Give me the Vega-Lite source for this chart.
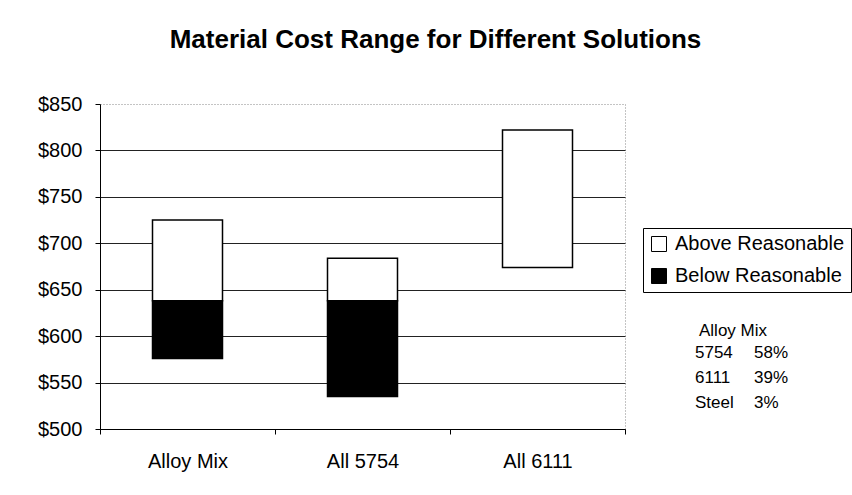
{
  "$schema": "https://vega.github.io/schema/vega-lite/v6.json",
  "width": 525,
  "height": 325,
  "autosize": {"type": "none"},
  "padding": {"left": 100, "top": 104, "right": 227, "bottom": 66},
  "background": "white",
  "title": {
    "text": "Material Cost Range for Different Solutions",
    "fontSize": 26,
    "fontWeight": "bold",
    "color": "black",
    "anchor": "middle",
    "frame": "group",
    "baseline": "alphabetic",
    "dx": 73,
    "offset": 20
  },
  "datasets": {
    "bars": [
      {"solution": "Alloy Mix", "type": "Below Reasonable", "low": 576, "high": 638},
      {"solution": "Alloy Mix", "type": "Above Reasonable", "low": 638, "high": 725},
      {"solution": "All 5754", "type": "Below Reasonable", "low": 535, "high": 638},
      {"solution": "All 5754", "type": "Above Reasonable", "low": 638, "high": 684},
      {"solution": "All 6111", "type": "Above Reasonable", "low": 674, "high": 822}
    ],
    "alloy": [
      {"entry": "5754"},
      {"entry": "6111"},
      {"entry": "Steel"},
      {"entry": "58%"},
      {"entry": "39%"},
      {"entry": "3%"}
    ]
  },
  "layer": [
    {
      "data": {"name": "bars"},
      "mark": {"type": "bar", "stroke": "black", "strokeWidth": 1.5, "width": {"band": 0.4}},
      "encoding": {
        "x": {
          "field": "solution",
          "type": "nominal",
          "sort": null,
          "scale": {"paddingInner": 0, "paddingOuter": 0},
          "axis": {
            "title": null,
            "labelAngle": 0,
            "labelFontSize": 20,
            "labelColor": "black",
            "labelPadding": 17,
            "tickBand": "extent",
            "tickSize": 5,
            "tickColor": "black",
            "domainColor": "black",
            "grid": false
          }
        },
        "y": {
          "field": "low",
          "type": "quantitative",
          "scale": {"domain": [500, 850], "nice": false, "zero": false},
          "axis": {
            "title": null,
            "values": [500, 550, 600, 650, 700, 750, 800, 850],
            "format": "$.0f",
            "labelFontSize": 20,
            "labelColor": "black",
            "labelPadding": 13,
            "tickSize": 5,
            "tickColor": "black",
            "domainColor": "black",
            "grid": true,
            "gridColor": {"condition": {"test": "datum.value === 850", "value": "transparent"}, "value": "#222222"},
            "gridOpacity": 1
          }
        },
        "y2": {"field": "high"},
        "color": {
          "field": "type",
          "type": "nominal",
          "scale": {"domain": ["Above Reasonable", "Below Reasonable"], "range": ["white", "black"]},
          "legend": {
            "title": null,
            "orient": "none",
            "legendX": 543,
            "legendY": 124,
            "labelFontSize": 20,
            "labelColor": "black",
            "labelLimit": 400,
            "symbolType": "square",
            "symbolSize": 225,
            "symbolStrokeColor": "black",
            "symbolStrokeWidth": 1,
            "labelOffset": 6,
            "rowPadding": 12,
            "padding": 6,
            "strokeColor": "black",
            "fillColor": "white"
          }
        }
      }
    },
    {
      "data": {"name": "alloy"},
      "mark": {"type": "point", "opacity": 0},
      "encoding": {
        "shape": {
          "field": "entry",
          "type": "nominal",
          "sort": null,
          "legend": {
            "title": "Alloy Mix",
            "orient": "none",
            "legendX": 578,
            "legendY": 219,
            "columns": 2,
            "columnPadding": 3,
            "rowPadding": 7,
            "gridAlign": "each",
            "symbolSize": 0,
            "symbolOpacity": 0,
            "symbolStrokeWidth": 0,
            "labelOffset": 0,
            "labelFontSize": 17,
            "labelColor": "black",
            "titleFontSize": 17,
            "titleFontWeight": "normal",
            "titleColor": "black",
            "titleAnchor": "middle",
            "titlePadding": 4,
            "padding": 0
          }
        }
      }
    }
  ],
  "config": {
    "font": "Liberation Sans",
    "view": {"stroke": "#888888", "strokeDash": [1, 2], "strokeWidth": 1}
  }
}
